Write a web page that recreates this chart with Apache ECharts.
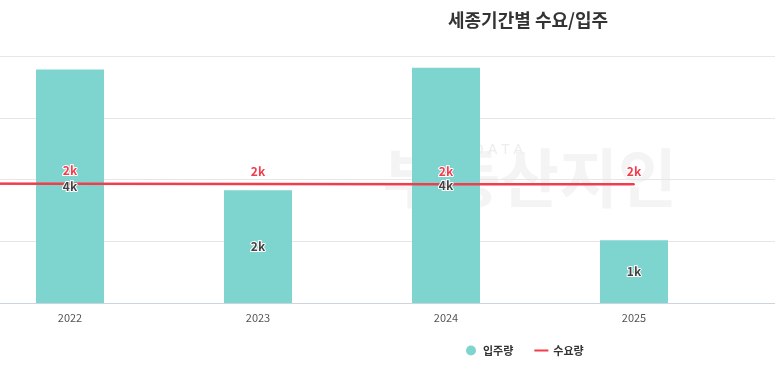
<!DOCTYPE html>
<html>
<head>
<meta charset="utf-8">
<script src="https://cdn.jsdelivr.net/npm/echarts@6/dist/echarts.min.js"></script>
<style>
  html, body { margin: 0; padding: 0; overflow: hidden; background: #fff; }
  #wrap { position: relative; width: 775px; height: 369px; overflow: hidden; }
  #chart { position: absolute; left: -220px; top: 0; width: 1140px; height: 369px; }
</style>
</head>
<body>
<div id="wrap"><div id="chart"></div></div>
<script>
// categories (2021 / 2026 sit outside the visible crop)
const years = ['2021', '2022', '2023', '2024', '2025', '2026'];
const moveIn = [null, 3780, 1825, 3810, 1018, null];   // 입주량
const demand = [1935, 1932, 1928, 1924, 1922, null];    // 수요량
const yTicks = [0, 1000, 2000, 3000, 4000];

const FONT = '"Noto Sans CJK KR", "Noto Sans", sans-serif';
const fmtK = p => Math.round(p.value / 1000) + 'k';

let mychart = echarts.init(document.getElementById('chart'));
mychart.setOption({
  animation: false,
  textStyle: { fontFamily: FONT },
  title: {
    text: '세종기간별 수요/입주',
    left: 668, top: 11, padding: 0,
    textStyle: { fontSize: 18, fontWeight: 'bold', color: '#333', fontFamily: FONT }
  },
  legend: {
    data: [
      { name: '입주량', icon: 'circle' },
      { name: '수요량', itemStyle: { opacity: 0 } }
    ],
    left: 686, top: 345, padding: 0,
    itemWidth: 14, itemHeight: 10, itemGap: 20,
    textStyle: { fontSize: 11, fontWeight: 'bold', color: '#333', fontFamily: FONT }
  },
  graphic: [
    {
      type: 'text', z: -10, silent: true,
      x: 897, y: 178,
      style: {
        text: '부동산지인', fill: '#f4f4f4',
        font: 'bold 64px "Noto Sans CJK KR"',
        align: 'right', verticalAlign: 'middle'
      }
    },
    {
      type: 'text', z: -10, silent: true,
      x: 743, y: 150,
      style: {
        text: 'D A T A', fill: '#ededed',
        font: '15px "Noto Sans"',
        align: 'right', verticalAlign: 'middle'
      }
    }
  ],
  grid: { left: 8, right: 4, top: 56, bottom: 66, containLabel: false },
  xAxis: {
    type: 'category',
    data: years,
    axisLine: { show: true, lineStyle: { color: '#ccd4de', width: 1 } },
    axisTick: { show: false },
    axisLabel: { fontSize: 11, color: '#555', margin: 9, fontFamily: FONT }
  },
  yAxis: {
    type: 'value',
    min: yTicks[0], max: yTicks[yTicks.length - 1], interval: 1000,
    axisLine: { show: false },
    axisTick: { show: false },
    axisLabel: { show: false },
    splitLine: { lineStyle: { color: '#e6e6e6' } }
  },
  series: [
    {
      name: '입주량',
      type: 'bar',
      data: moveIn,
      barWidth: 68,
      z: 2,
      itemStyle: { color: '#7ed5cf' }
    },
    {
      name: '수요량',
      type: 'line',
      data: demand,
      z: 3,
      symbol: 'circle',
      symbolSize: 2,
      itemStyle: { color: '#f23d4c' },
      lineStyle: { color: '#f23d4c', width: 2.5 },
      label: {
        show: true, position: 'top', distance: 6,
        formatter: fmtK,
        color: '#f23d4c', fontSize: 12, fontWeight: 'bold',
        textBorderColor: '#fff', textBorderWidth: 2, fontFamily: FONT
      }
    },
    {
      // label-only copy of the bars so "4k" sits above the red line
      name: 'barLabel',
      type: 'bar',
      data: moveIn,
      barWidth: 68,
      barGap: '-100%',
      z: 5,
      silent: true,
      itemStyle: { color: 'rgba(0,0,0,0)' },
      label: {
        show: true, position: 'inside',
        formatter: fmtK,
        color: '#444', fontSize: 12, fontWeight: 'bold',
        textBorderColor: '#fff', textBorderWidth: 2, fontFamily: FONT
      }
    }
  ]
});
</script>
</body>
</html>
